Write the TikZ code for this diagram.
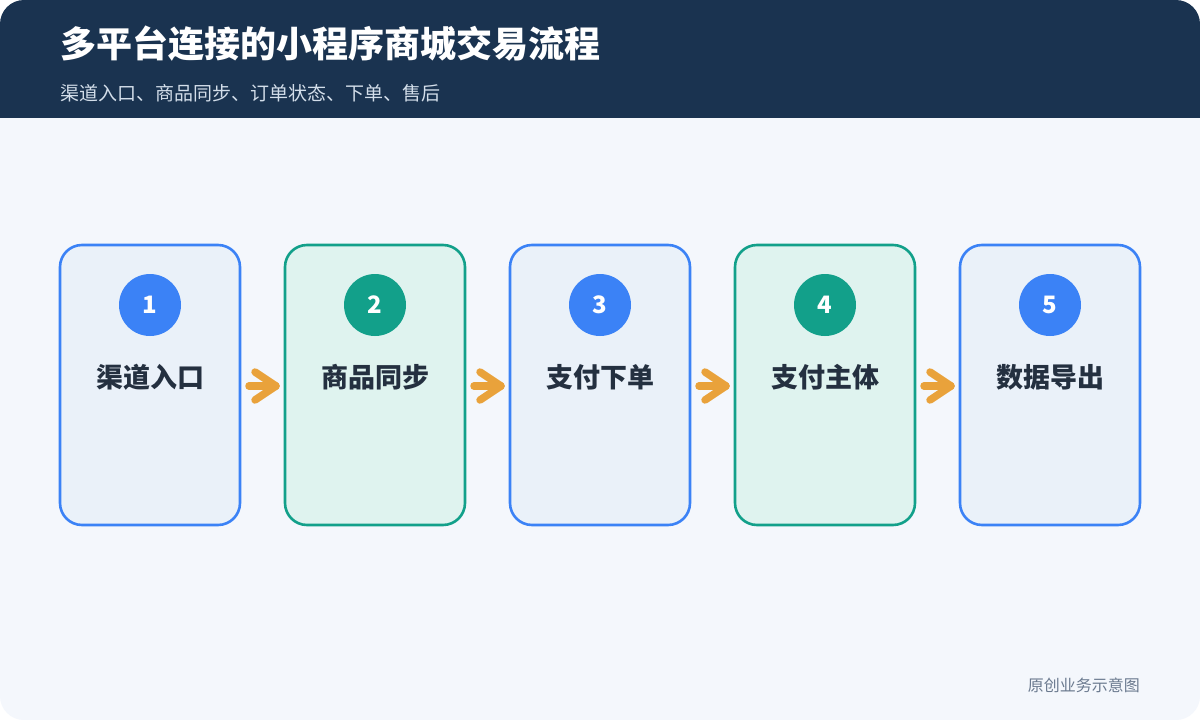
\documentclass[tikz,border=0pt]{standalone}
\usepackage{fontspec}
\setmainfont{Noto Sans CJK SC}
\usetikzlibrary{positioning}
\definecolor{hdr}{HTML}{1A3350}
\definecolor{bgc}{HTML}{F4F7FC}
\definecolor{bblue}{HTML}{3B82F6}
\definecolor{fblue}{HTML}{EAF1F9}
\definecolor{bteal}{HTML}{12A08A}
\definecolor{fteal}{HTML}{DFF3EF}
\definecolor{arr}{HTML}{E9A23B}
\definecolor{txt}{HTML}{243040}
\definecolor{subt}{HTML}{D3DEEA}
\definecolor{foot}{HTML}{6B7A8F}
\tikzset{
  stepbox/.style={draw=#1, line width=2.6pt, rounded corners=22pt, minimum width=180pt, minimum height=280pt, anchor=north west, inner sep=0pt, outer sep=0pt},
  numdot/.style={circle, fill=#1, minimum size=62pt, inner sep=0pt, text=white, font=\fontsize{24}{24}\selectfont\bfseries},
  steplabel/.style={text=txt, font=\fontsize{27}{27}\selectfont\bfseries},
  flow/.style={draw=arr, line width=7.5pt, line cap=round, line join=round}
}
\begin{document}
\begin{tikzpicture}[x=1pt,y=-1pt]
\useasboundingbox (0,0) rectangle (1200,720);
\fill[white] (0,0) rectangle (1200,720);
\begin{scope}
\clip[rounded corners=24pt] (0,0) rectangle (1200,720);
\fill[bgc] (0,0) rectangle (1200,720);
\fill[hdr] (0,0) rectangle (1200,118);
\end{scope}
\node[anchor=west, inner sep=0pt, text=white, font=\fontsize{36}{36}\selectfont\bfseries] (title) at (60,44) {多平台连接的小程序商城交易流程};
\node[anchor=west, inner sep=0pt, text=subt, font=\fontsize{19}{19}\selectfont] (sub) at (60,93) {渠道入口、商品同步、订单状态、下单、售后};
\node[anchor=east, inner sep=0pt, text=foot, font=\fontsize{16}{16}\selectfont] (footer) at (1140,685) {原创业务示意图};
\foreach \i/\lab/\bc/\fc in {1/渠道入口/bblue/fblue, 2/商品同步/bteal/fteal, 3/支付下单/bblue/fblue, 4/支付主体/bteal/fteal, 5/数据导出/bblue/fblue}{
  \pgfmathsetmacro{\xx}{60+225*(\i-1)}
  \node[stepbox=\bc, fill=\fc] (b\i) at (\xx,245) {};
  \node[numdot=\bc] (n\i) at (\xx+90,305) {\i};
  \node[steplabel] (l\i) at (\xx+90,377) {\lab};
}
\foreach \i in {1,...,4}{
  \pgfmathtruncatemacro{\j}{\i+1}
  \coordinate (s\i) at ([xshift=9pt]b\i.east |- 0,386);
  \coordinate (e\i) at ([xshift=-9pt]b\j.west |- 0,386);
  \draw[flow] (s\i) -- (e\i);
  \draw[flow] ([xshift=-21pt,yshift=-14pt]e\i) -- (e\i) -- ([xshift=-21pt,yshift=14pt]e\i);
}
\end{tikzpicture}
\end{document}
